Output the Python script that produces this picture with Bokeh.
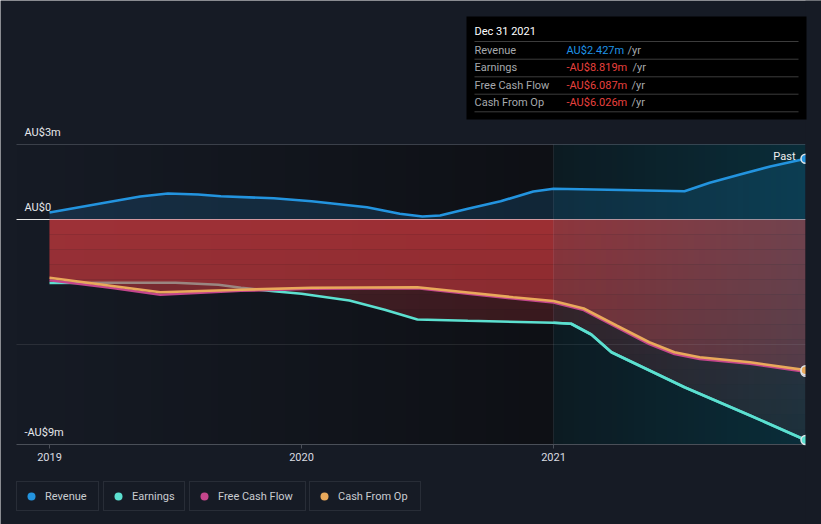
import numpy as np
from bokeh.plotting import figure
from bokeh.models import Range1d, FixedTicker, Legend, LegendItem
from bokeh.embed import file_html
from bokeh.resources import INLINE
from bokeh.core.properties import value

# ---------------- data ----------------
rev_t = [2019.00, 2019.23, 2019.36, 2019.47, 2019.59, 2019.68, 2019.89, 2020.04, 2020.26, 2020.39,
         2020.48, 2020.55, 2020.66, 2020.79, 2020.92, 2021.00, 2021.27, 2021.52, 2021.62, 2021.74,
         2021.86, 2022.00]
rev_v = [0.28, 0.69, 0.92, 1.04, 1.00, 0.93, 0.85, 0.73, 0.49, 0.23,
         0.12, 0.16, 0.43, 0.73, 1.12, 1.23, 1.18, 1.13, 1.47, 1.80,
         2.12, 2.427]

earn_t = [2019.00, 2019.25, 2019.50, 2019.67, 2019.76, 2019.89, 2020.00, 2020.19, 2020.33, 2020.46,
          2020.66, 2021.00, 2021.07, 2021.15, 2021.23, 2021.52, 2021.78, 2022.00]
earn_v = [-2.54, -2.53, -2.53, -2.61, -2.73, -2.87, -2.97, -3.24, -3.61, -4.00,
          -4.05, -4.13, -4.17, -4.60, -5.31, -6.71, -7.84, -8.819]

cash_t = [2019.00, 2019.25, 2019.44, 2019.76, 2020.04, 2020.46, 2020.66, 2020.84, 2021.00, 2021.12,
          2021.25, 2021.38, 2021.48, 2021.58, 2021.78, 2022.00]
cfo_v = [-2.33, -2.66, -2.91, -2.81, -2.73, -2.71, -2.92, -3.11, -3.26, -3.56,
         -4.24, -4.91, -5.31, -5.51, -5.71, -6.026]
fcf_v = [-2.43, -2.74, -3.01, -2.85, -2.77, -2.75, -2.97, -3.16, -3.32, -3.62,
         -4.30, -4.98, -5.38, -5.58, -5.77, -6.087]

series_names = ["Revenue", "Earnings", "Free Cash Flow", "Cash From Op"]
series_colors = ["#2394df", "#5ce0d0", "#c4468c", "#e9a95b"]

x_ticks = [2019, 2020, 2021]
x_tick_labels = ["2019", "2020", "2021"]
y_label_ticks = [3, 0, -9]
y_tick_labels = ["AU$3m", "AU$0", "-AU$9m"]
y_grid = [3, -5]
past_start = 2021.0
past_label = "Past"

tooltip_title = "Dec 31 2021"
tooltip_rows = ["Revenue", "Earnings", "Free Cash Flow", "Cash From Op"]
tooltip_values = ["AU$2.427m", "-AU$8.819m", "-AU$6.087m", "-AU$6.026m"]
tooltip_value_colors = ["#1f93e6", "#e8403e", "#e8403e", "#e8403e"]
tooltip_unit = "/yr"

# ---------------- layout helpers (window pixels -> data) ----------------
W, H = 821, 524
PX_2019, PX_YEAR = 49, 252
PY_ZERO, PX_M = 219, 25


def dx(px):
    return 2019 + (px - PX_2019) / PX_YEAR


def dy(py):
    return (PY_ZERO - py) / PX_M


BG = "#161b25"
FONT = "Roboto"
x0_plot = dx(16)
x1_plot = dx(805)
y_top, y_bot = max(y_label_ticks), min(y_label_ticks)

p = figure(width=W, height=H, output_backend="svg", toolbar_location=None,
           x_range=Range1d(dx(0), dx(W)), y_range=Range1d(dy(H), dy(0)),
           y_axis_location=None, min_border_left=0, min_border_right=0,
           min_border_top=0, min_border_bottom=0)
p.background_fill_color = BG
p.border_fill_color = BG
p.outline_line_color = None
p.xgrid.visible = False
p.ygrid.visible = False


def rgba_image(cols):
    n = len(cols)
    img = np.zeros((1, n), dtype=np.uint32)
    view = img.view(dtype=np.uint8).reshape((1, n, 4))
    for i, c in enumerate(cols):
        view[0, i, :] = c
    return img


# plot background: darkening towards the "past" zone
n_bg = 537
c0 = np.array([22, 27, 37]); c1 = np.array([14, 16, 21])
bg_cols = [tuple((c0 + (c1 - c0) * k / (n_bg - 1)).astype(int)) + (255,) for k in range(n_bg)]
p.image_rgba(image=[rgba_image(bg_cols)], x=x0_plot, y=y_bot, dw=past_start - x0_plot, dh=y_top - y_bot)
p.quad(left=past_start, right=x1_plot, bottom=y_bot, top=y_top, fill_color="#0e1116", line_color=None)

# gridlines
p.segment(x0=[x0_plot], x1=[x1_plot], y0=[y_grid[0]], y1=[y_grid[0]], line_color="#3b404a", line_width=1)
p.segment(x0=[x0_plot], x1=[x1_plot], y0=[0], y1=[0], line_color="#e8e8e8", line_width=1.2)

# revenue area
p.varea(x=rev_t, y1=0, y2=rev_v, fill_color=series_colors[0], fill_alpha=0.17)


def band_areas(t, v, alpha_top, color):
    tg = np.union1d(np.linspace(t[0], t[-1], 800), t)
    vg = np.interp(tg, t, v)
    edges = np.arange(0, -9.001, -0.6)
    for hi, lo in zip(edges[:-1], edges[1:]):
        f = 1 - 0.06 * abs((hi + lo) / 2)
        y2 = np.minimum(hi, np.maximum(vg, lo))
        p.varea(x=tg, y1=np.full_like(tg, hi), y2=y2, fill_color=color, fill_alpha=alpha_top * f)


red = "#cd3a3e"
band_areas(earn_t, earn_v, 0.30, red)
p.line(earn_t, earn_v, line_color=series_colors[1], line_width=2.6)
band_areas(cash_t, cfo_v, 0.65, red)

# faint gridline at -5
p.segment(x0=[x0_plot], x1=[x1_plot], y0=[y_grid[1]], y1=[y_grid[1]], line_color="#ffffff",
          line_alpha=0.09, line_width=1)

# "past" highlight overlay
n_hl = 252
hl_cols = [(0, 120, 150, int(255 * (0.10 + 0.18 * k / (n_hl - 1)))) for k in range(n_hl)]
p.image_rgba(image=[rgba_image(hl_cols)], x=past_start, y=y_bot, dw=x1_plot - past_start, dh=y_top - y_bot)
p.segment(x0=[past_start], x1=[past_start], y0=[y_bot], y1=[y_top], line_color="#ffffff",
          line_alpha=0.07, line_width=1)

# lines on top
et = [t for t in earn_t if t >= past_start]
ev = [v for t, v in zip(earn_t, earn_v) if t >= past_start]
p.line(et, ev, line_color=series_colors[1], line_width=2.6)
p.line(cash_t, fcf_v, line_color=series_colors[2], line_width=2.6)
p.line(cash_t, cfo_v, line_color=series_colors[3], line_width=2.6)
p.line(rev_t, rev_v, line_color=series_colors[0], line_width=2.6)

# axis line
p.segment(x0=[x0_plot], x1=[x1_plot], y0=[y_bot], y1=[y_bot], line_color="#4a4f58", line_width=1)

# end markers (plain dots underneath double as legend glyphs)
ends = [(rev_t[-1], rev_v[-1]), (earn_t[-1], earn_v[-1]), (cash_t[-1], fcf_v[-1]), (cash_t[-1], cfo_v[-1])]
legend_glyphs = []
for (xe, ye), c in zip(ends, series_colors):
    legend_glyphs.append(p.scatter([xe], [ye], size=8, marker="circle", fill_color=c, line_color=None))
for (xe, ye), c in zip(ends, series_colors):
    p.scatter([xe], [ye], size=9, marker="circle", fill_color=c, line_color="#dfe6ea", line_width=1.5)

# page background to the right of the plot area (clips the end markers like the original)
p.quad(left=x1_plot, right=dx(W), bottom=dy(H), top=dy(0), fill_color=BG, line_color=None)

p.text(x=[rev_t[-1]], y=[rev_v[-1]], text=[past_label], text_align="right", text_baseline="middle",
       x_offset=-10, y_offset=-2, text_color="#f0f0f0", text_font=value(FONT), text_font_size="11px")

# y labels
p.text(x=[dx(24)] * len(y_label_ticks), y=y_label_ticks, text=y_tick_labels, text_baseline="middle",
       y_offset=-12, text_color="#e6e8eb", text_font=value(FONT), text_font_size="11px")

# x axis
ax = p.xaxis[0]
ax.fixed_location = y_bot
ax.ticker = FixedTicker(ticks=x_ticks)
ax.major_label_overrides = {t: l for t, l in zip(x_ticks, x_tick_labels)}
ax.axis_line_color = None
ax.major_tick_line_color = "#4a4f58"
ax.major_tick_out = 4
ax.major_tick_in = 0
ax.minor_tick_line_color = None
ax.major_label_text_color = "#d9dce1"
ax.major_label_text_font = FONT
ax.major_label_text_font_size = "11px"
ax.major_label_standoff = 4

# tooltip box
p.quad(left=dx(466), right=dx(806), top=dy(16), bottom=dy(119), fill_color="#000000", line_color=None)
sep_py = [41, 58.7, 76.3, 93.7, 111.3]
p.segment(x0=[dx(474)] * 5, x1=[dx(798)] * 5, y0=[dy(v) for v in sep_py], y1=[dy(v) for v in sep_py],
          line_color="#3c3c3c", line_width=1)
p.text(x=[dx(474)], y=[dy(31)], text=[tooltip_title], text_baseline="middle", text_color="#ffffff",
       text_font=value(FONT), text_font_size="11px")
row_py = [49.5, 67, 84.5, 102]
p.text(x=[dx(474)] * 4, y=[dy(v) for v in row_py], text=tooltip_rows, text_baseline="middle",
       text_color="#a6a9ad", text_font=value(FONT), text_font_size="11px")
p.text(x=[dx(566)] * 4, y=[dy(v) for v in row_py], text=tooltip_values, text_baseline="middle",
       text_color=tooltip_value_colors, text_font=value(FONT), text_font_size="11px")
unit_px = [627, 632, 631, 631]
p.text(x=[dx(v) for v in unit_px], y=[dy(v) for v in row_py], text=[tooltip_unit] * 4, text_baseline="middle",
       text_color="#a6a9ad", text_font=value(FONT), text_font_size="11px")

# legend boxes
leg_px = [16, 103, 189, 309]
leg_w = [81, 80, 115, 110]
leg_bottom_px = 511
for name, r, lx, lw in zip(series_names, legend_glyphs, leg_px, leg_w):
    lg = Legend(items=[LegendItem(label=name, renderers=[r])], location=(lx, H - leg_bottom_px),
                orientation="horizontal", padding=4, margin=0, spacing=0,
                glyph_width=20, glyph_height=20, label_standoff=4, label_width=lw - 32, label_height=12,
                label_text_font=FONT, label_text_font_size="11px", label_text_color="#c9ccd1",
                background_fill_color=BG, background_fill_alpha=1.0,
                border_line_color="#3a3f49", border_line_width=1)
    p.add_layout(lg)

open("out.html", "w").write(file_html(p, INLINE))
